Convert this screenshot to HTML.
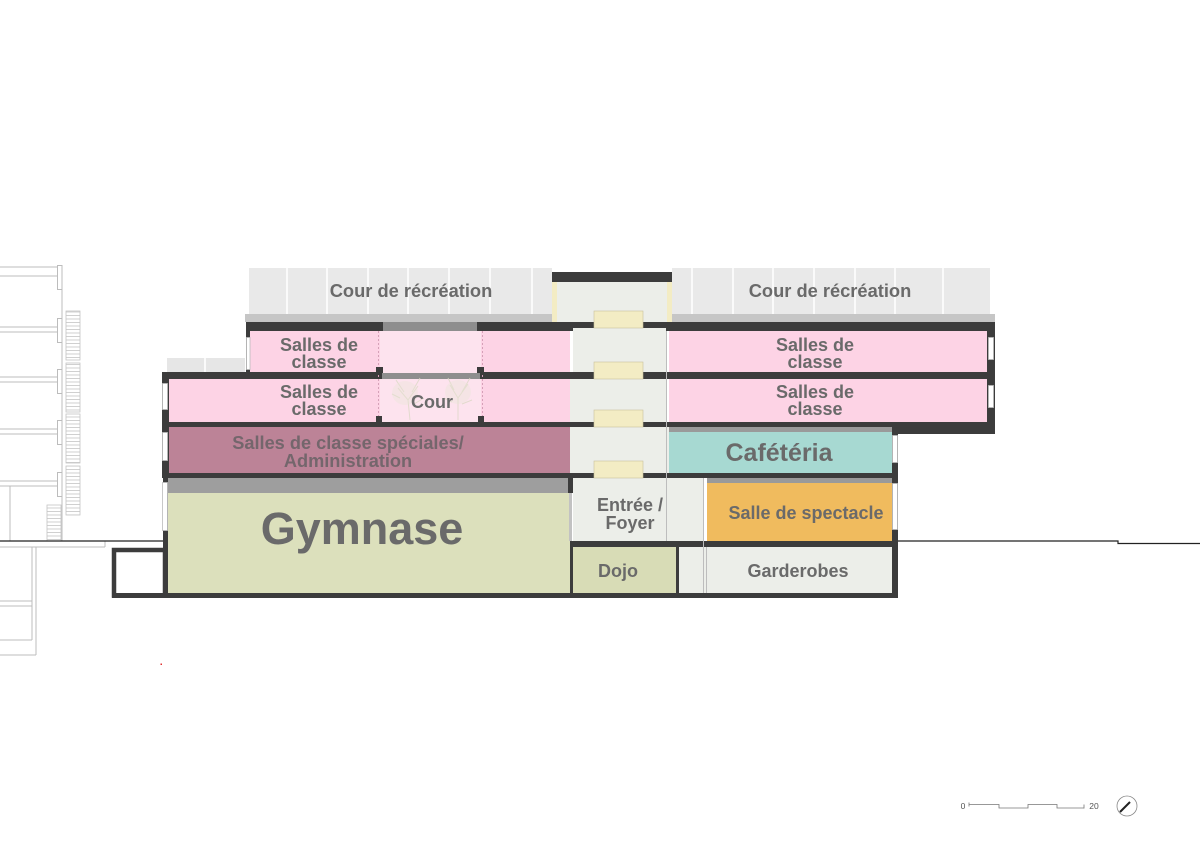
<!DOCTYPE html>
<html><head><meta charset="utf-8"><style>
html,body{margin:0;padding:0;background:#fff;}
svg{display:block;}
text{font-family:"Liberation Sans",Arial,sans-serif;font-weight:bold;fill:#6a6a6a;text-anchor:middle;}
</style></head><body>
<svg width="1200" height="849" viewBox="0 0 1200 849" xmlns="http://www.w3.org/2000/svg">
<defs>
<pattern id="rail" width="4" height="3.5" patternUnits="userSpaceOnUse"><rect width="4" height="3.5" fill="#fff"/><line x1="0" y1="0.5" x2="4" y2="0.5" stroke="#c4c4c4" stroke-width="0.8"/></pattern>
</defs>
<rect width="1200" height="849" fill="#fff"/>

<!-- neighbouring building (left) -->
<g stroke="#bcbcbc" stroke-width="1" fill="none">
<line x1="62" y1="265" x2="62" y2="541"/>
<line x1="0" y1="267" x2="57" y2="267"/><line x1="0" y1="276" x2="57" y2="276"/>
<line x1="0" y1="327" x2="57" y2="327"/><line x1="0" y1="332" x2="57" y2="332"/>
<line x1="0" y1="377" x2="57" y2="377"/><line x1="0" y1="382" x2="57" y2="382"/>
<line x1="0" y1="429" x2="57" y2="429"/><line x1="0" y1="434" x2="57" y2="434"/>
<line x1="0" y1="481" x2="57" y2="481"/><line x1="0" y1="486" x2="57" y2="486"/>
<rect x="57.5" y="265.5" width="4.5" height="24"/>
<rect x="57.5" y="318.5" width="4.5" height="24"/>
<rect x="57.5" y="369.5" width="4.5" height="24"/>
<rect x="57.5" y="420.5" width="4.5" height="24"/>
<rect x="57.5" y="472.5" width="4.5" height="24"/>
<line x1="10" y1="486" x2="10" y2="541"/>
<line x1="0" y1="547" x2="105" y2="547"/><line x1="105" y1="541" x2="105" y2="547"/>
<line x1="32" y1="547" x2="32" y2="640"/>
<line x1="0" y1="601" x2="32" y2="601"/><line x1="0" y1="606" x2="32" y2="606"/>
<line x1="0" y1="640" x2="32" y2="640"/>
<line x1="36" y1="547" x2="36" y2="655"/><line x1="0" y1="655" x2="36" y2="655"/>
</g>
<g stroke="#c4c4c4" stroke-width="0.8">
<rect x="66" y="311" width="14" height="49" fill="url(#rail)"/>
<rect x="66" y="363" width="14" height="49" fill="url(#rail)"/>
<rect x="66" y="414" width="14" height="49" fill="url(#rail)"/>
<rect x="66" y="466" width="14" height="49" fill="url(#rail)"/>
<rect x="47" y="505" width="14" height="36" fill="url(#rail)"/>
</g>
<line x1="0" y1="541" x2="163" y2="541" stroke="#222" stroke-width="1.2"/>

<!-- ground right -->
<polyline points="898,541 1118,541 1118,543.5 1200,543.5" fill="none" stroke="#222" stroke-width="1.2"/>

<!-- roof fences -->
<rect x="249" y="268" width="303" height="46" fill="#e9e9e9"/>
<rect x="672" y="268" width="318" height="46" fill="#e9e9e9"/>
<rect x="167" y="358" width="78" height="14" fill="#e6e6e6"/>
<g stroke="#fff" stroke-width="1.6">
<line x1="287" y1="268" x2="287" y2="314"/><line x1="327" y1="268" x2="327" y2="314"/>
<line x1="368" y1="268" x2="368" y2="314"/><line x1="408" y1="268" x2="408" y2="314"/>
<line x1="449" y1="268" x2="449" y2="314"/><line x1="490" y1="268" x2="490" y2="314"/>
<line x1="532" y1="268" x2="532" y2="314"/>
<line x1="692" y1="268" x2="692" y2="314"/><line x1="733" y1="268" x2="733" y2="314"/>
<line x1="773" y1="268" x2="773" y2="314"/><line x1="814" y1="268" x2="814" y2="314"/>
<line x1="855" y1="268" x2="855" y2="314"/><line x1="895" y1="268" x2="895" y2="314"/>
<line x1="943" y1="268" x2="943" y2="314"/>
<line x1="205" y1="358" x2="205" y2="372"/>
</g>
<!-- parapet -->
<rect x="245" y="314" width="750" height="8" fill="#c6c6c6"/>

<!-- stair tower -->
<rect x="552" y="272" width="120" height="10" fill="#3c3c3c"/>
<rect x="557" y="282" width="110" height="40" fill="#eceee9"/>
<rect x="552" y="282" width="5" height="40" fill="#f3ecc4"/>
<rect x="667" y="282" width="5" height="40" fill="#f3ecc4"/>

<!-- slabs -->
<rect x="246" y="322" width="749" height="9" fill="#3c3c3c"/>
<rect x="383" y="322" width="94" height="9" fill="#8e8e8e"/>
<rect x="162" y="372" width="833" height="7" fill="#3c3c3c"/>
<rect x="382" y="373" width="98" height="6" fill="#8e8e8e"/>
<rect x="162" y="422" width="731" height="5" fill="#3c3c3c"/>
<rect x="893" y="422" width="102" height="12" fill="#3c3c3c"/>
<rect x="162" y="473" width="736" height="5" fill="#3c3c3c"/>
<rect x="570" y="541" width="328" height="6" fill="#3c3c3c"/>
<rect x="112" y="593" width="786" height="5" fill="#3c3c3c"/>

<!-- row 1 -->
<rect x="250" y="331" width="130" height="41" fill="#fdd3e5"/>
<rect x="380" y="331" width="101" height="42" fill="#fde3ee"/>
<rect x="481" y="331" width="89" height="41" fill="#fdd3e5"/>
<rect x="669" y="331" width="318" height="41" fill="#fdd3e5"/>
<!-- row 2 -->
<rect x="169" y="379" width="211" height="43" fill="#fdd3e5"/>
<rect x="380" y="379" width="101" height="43" fill="#fde3ee"/>
<rect x="481" y="379" width="89" height="43" fill="#fdd3e5"/>
<rect x="669" y="379" width="318" height="43" fill="#fdd3e5"/>
<!-- stairwell -->
<rect x="573" y="328" width="93" height="44" fill="#eceee9"/>
<rect x="570" y="379" width="96" height="43" fill="#eceee9"/>
<rect x="570" y="427" width="99" height="46" fill="#eceee9"/>
<rect x="573" y="478" width="130" height="63" fill="#eceee9"/>
<rect x="679" y="547" width="28" height="46" fill="#eceee9"/>
<g stroke="#bdbdbd" stroke-width="1">
<line x1="666.5" y1="331" x2="666.5" y2="541"/>
<line x1="703.5" y1="478" x2="703.5" y2="593"/>
<line x1="706.5" y1="547" x2="706.5" y2="593"/>
</g>
<!-- dotted cour lines -->
<g stroke="#d6a0b8" stroke-width="1" stroke-dasharray="2,2">
<line x1="378.5" y1="331" x2="378.5" y2="422"/>
<line x1="482.5" y1="331" x2="482.5" y2="422"/>
</g>
<!-- cour posts -->
<g fill="#3c3c3c">
<rect x="376" y="367" width="7" height="6"/><rect x="477" y="367" width="7" height="6"/>
<rect x="376" y="416" width="6" height="6"/><rect x="478" y="416" width="6" height="6"/>
</g>
<!-- faint trees -->
<g stroke="#dcd9c6" stroke-width="1" fill="none" opacity="0.8">
<path d="M410,420 L408,400 L398,388 M408,400 L418,386 M404,392 L396,380 M412,392 L420,378 M400,398 L392,394 M414,404 L424,398"/>
<path d="M458,420 L458,398 L450,385 M458,398 L468,384 M454,390 L448,378 M462,392 L470,378 M452,402 L444,398 M462,404 L472,400"/>
</g>
<g fill="#e9e6d6" opacity="0.35">
<ellipse cx="405" cy="393" rx="13" ry="12"/>
<ellipse cx="458" cy="392" rx="13" ry="12"/>
</g>

<!-- row 3 -->
<rect x="169" y="427" width="401" height="46" fill="#bc8397"/>
<rect x="669" y="427" width="223" height="46" fill="#a7d9d2"/>
<rect x="669" y="427" width="223" height="5" fill="#9a9a9a"/>

<!-- row 4 -->
<rect x="168" y="478" width="402" height="15" fill="#9e9e9e"/>
<rect x="168" y="493" width="402" height="100" fill="#dce0bc"/>
<rect x="568" y="478" width="5" height="15" fill="#3c3c3c"/>
<rect x="569" y="493" width="3" height="48" fill="#c2c2c2"/>
<rect x="570" y="541" width="3" height="57" fill="#3c3c3c"/>
<rect x="707" y="478" width="185" height="63" fill="#f0bb5e"/>
<rect x="707" y="478" width="185" height="5" fill="#9a9a9a"/>

<!-- row 5 -->
<rect x="573" y="547" width="103" height="46" fill="#d8dcb6"/>
<rect x="676" y="547" width="3" height="46" fill="#3c3c3c"/>
<rect x="707" y="547" width="185" height="46" fill="#eceee9"/>

<!-- cream landings -->
<g fill="#f3ecc4" stroke="#c9c29c" stroke-width="0.6">
<rect x="594" y="311" width="49" height="17"/>
<rect x="594" y="362" width="49" height="17"/>
<rect x="594" y="410" width="49" height="17"/>
<rect x="594" y="461" width="49" height="17"/>
</g>

<!-- walls with windows -->
<rect x="246" y="322" width="4" height="50" fill="#3c3c3c"/>
<rect x="246.5" y="337.5" width="3.5" height="32" fill="#fff" stroke="#bbb" stroke-width="0.8"/>
<rect x="162" y="372" width="7" height="101" fill="#3c3c3c"/>
<rect x="163" y="473" width="5" height="125" fill="#3c3c3c"/>
<rect x="162.5" y="383.5" width="5" height="26" fill="#fff" stroke="#bbb" stroke-width="0.8"/>
<rect x="162.5" y="432.5" width="5" height="28" fill="#fff" stroke="#bbb" stroke-width="0.8"/>
<rect x="162.5" y="482.5" width="5" height="48" fill="#fff" stroke="#bbb" stroke-width="0.8"/>
<rect x="114" y="550" width="51" height="45.5" fill="none" stroke="#3c3c3c" stroke-width="4.5"/>
<rect x="987" y="322" width="8" height="112" fill="#3c3c3c"/>
<rect x="988.5" y="337.5" width="5" height="22" fill="#fff" stroke="#bbb" stroke-width="0.8"/>
<rect x="988.5" y="385.5" width="5" height="22" fill="#fff" stroke="#bbb" stroke-width="0.8"/>
<rect x="892" y="427" width="6" height="171" fill="#3c3c3c"/>
<rect x="892.5" y="435.5" width="5" height="27" fill="#fff" stroke="#bbb" stroke-width="0.8"/>
<rect x="892.5" y="483.5" width="5" height="46" fill="#fff" stroke="#bbb" stroke-width="0.8"/>

<!-- labels -->
<text x="411" y="297" font-size="18.3">Cour de récréation</text>
<text x="830" y="297" font-size="18.3">Cour de récréation</text>
<text x="319" y="351" font-size="18">Salles de</text>
<text x="319" y="368" font-size="18">classe</text>
<text x="815" y="351" font-size="18">Salles de</text>
<text x="815" y="368" font-size="18">classe</text>
<text x="319" y="398" font-size="18">Salles de</text>
<text x="319" y="415" font-size="18">classe</text>
<text x="815" y="398" font-size="18">Salles de</text>
<text x="815" y="415" font-size="18">classe</text>
<text x="432" y="408" font-size="18">Cour</text>
<text x="348" y="449" font-size="18.2" style="fill:#74666c">Salles de classe spéciales/</text>
<text x="348" y="467" font-size="18.2" style="fill:#74666c">Administration</text>
<text x="779" y="461" font-size="25">Cafétéria</text>
<text x="806" y="519" font-size="18">Salle de spectacle</text>
<text x="630" y="511" font-size="18">Entrée /</text>
<text x="630" y="529" font-size="18">Foyer</text>
<text x="618" y="577" font-size="18">Dojo</text>
<text x="798" y="577" font-size="18">Garderobes</text>
<text x="362" y="544" font-size="45">Gymnase</text>

<!-- red dot -->
<rect x="160.5" y="663.5" width="1.5" height="1.5" fill="#e03030"/>

<!-- scale bar -->
<text x="963" y="809" font-size="8.5" style="font-weight:normal;fill:#555">0</text>
<polyline points="969,804.5 999,804.5 999,808 1028,808 1028,804.5 1057,804.5 1057,808 1084,808" fill="none" stroke="#777" stroke-width="0.8"/>
<line x1="969" y1="802.5" x2="969" y2="806.5" stroke="#777" stroke-width="0.8"/>
<line x1="1084" y1="804.5" x2="1084" y2="808.5" stroke="#777" stroke-width="0.8"/>
<text x="1094" y="809" font-size="8.5" style="font-weight:normal;fill:#555">20</text>
<circle cx="1127" cy="806" r="10" fill="none" stroke="#888" stroke-width="0.8"/>
<line x1="1120" y1="812" x2="1130" y2="802" stroke="#222" stroke-width="2"/>
</svg>
</body></html>
